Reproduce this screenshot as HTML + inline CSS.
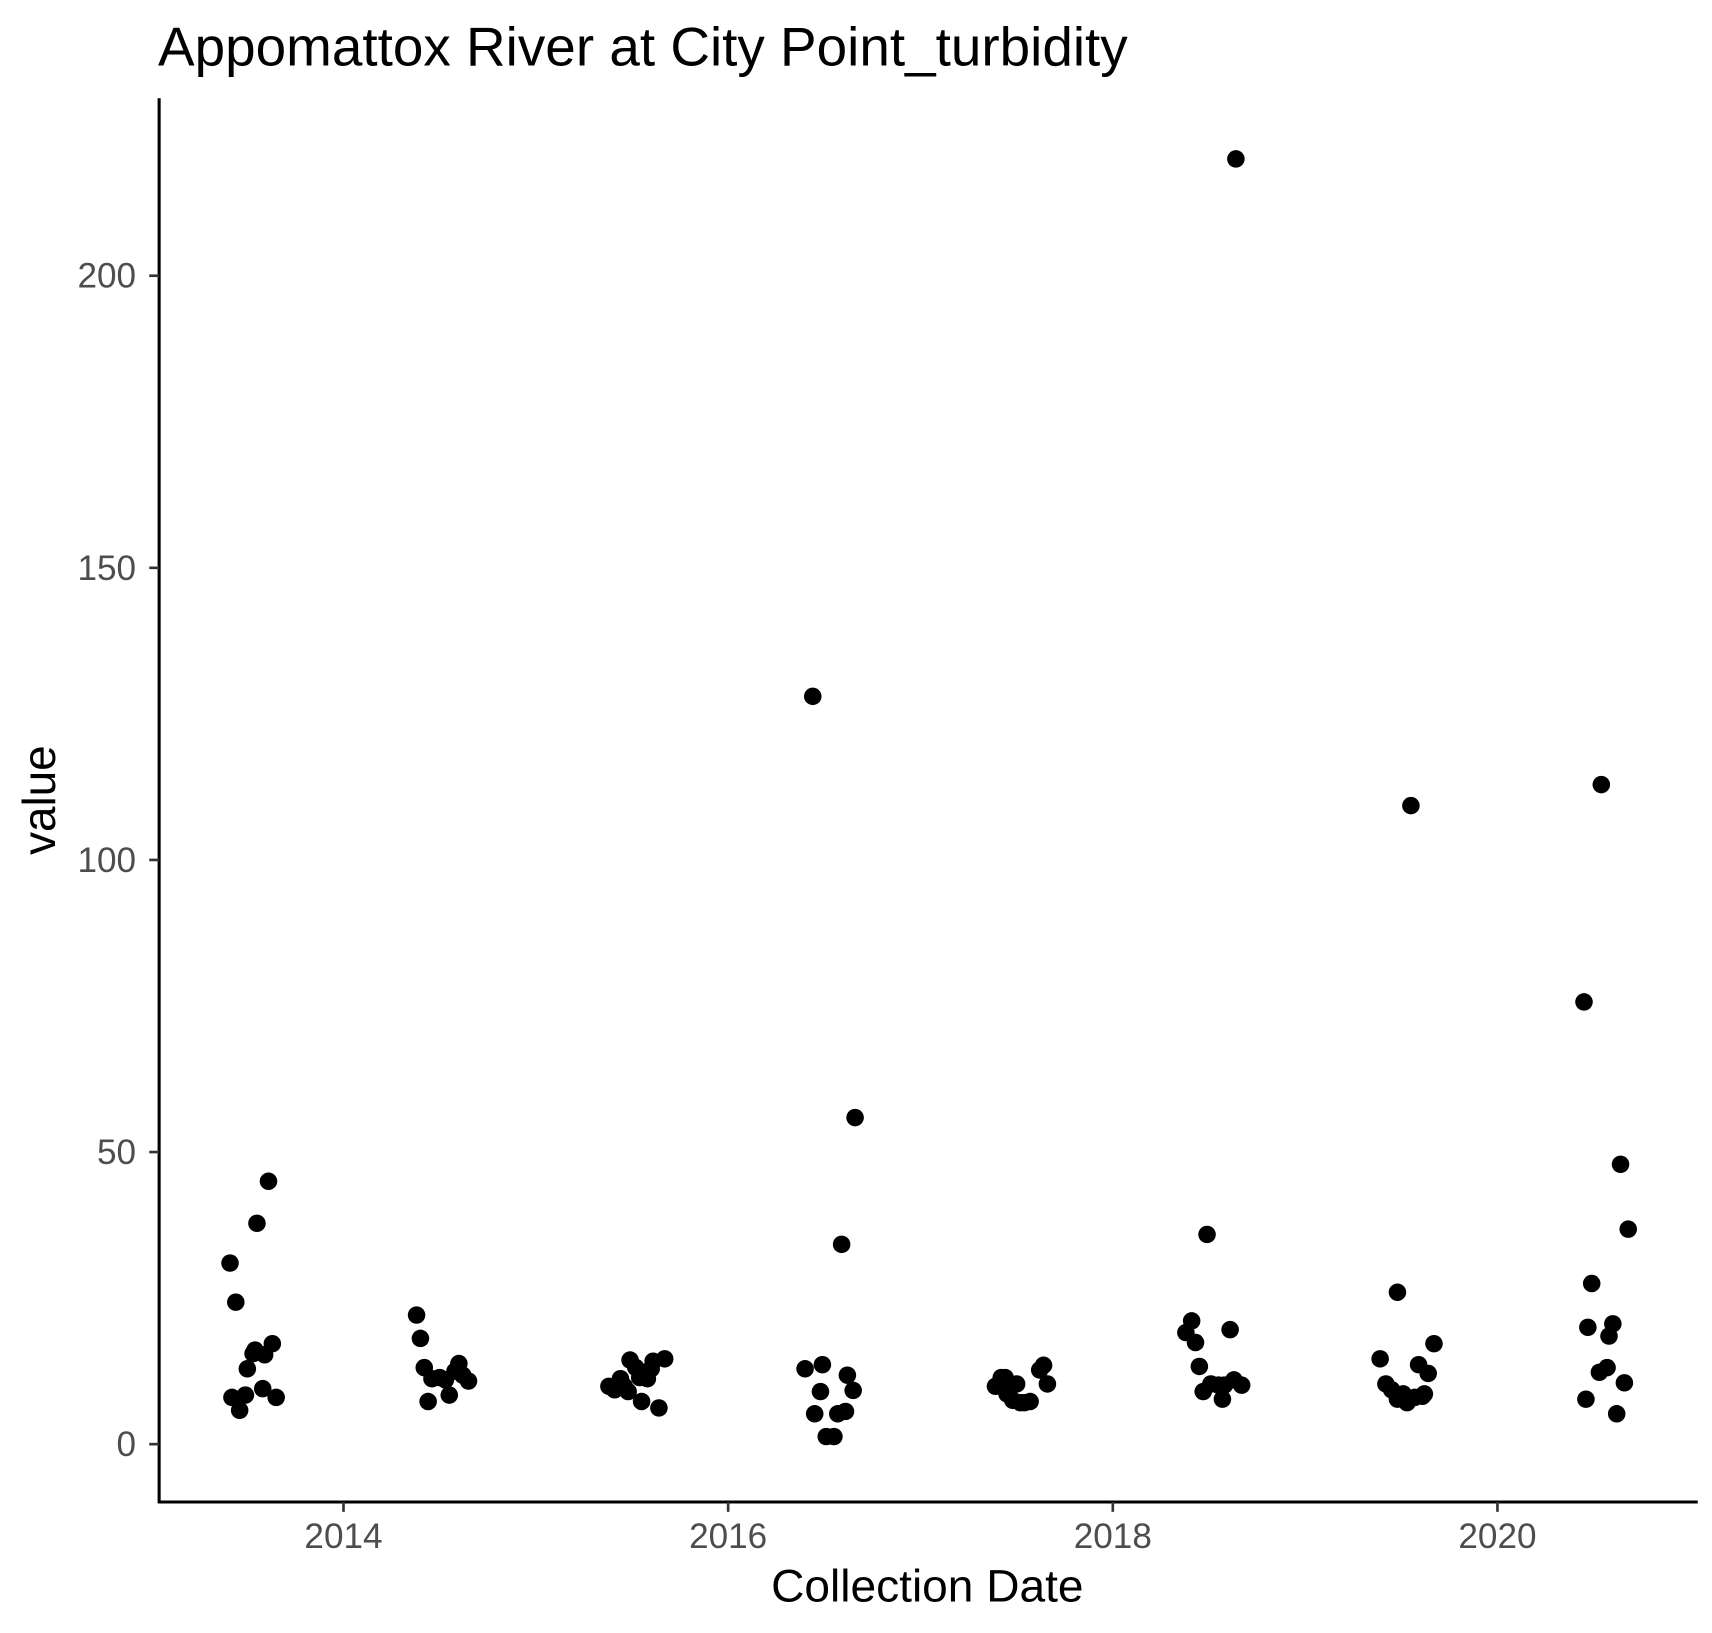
<!DOCTYPE html>
<html><head><meta charset="utf-8"><style>
html,body{margin:0;padding:0;background:#fff;}
svg{display:block;font-family:"Liberation Sans",Arial,sans-serif;}
</style></head><body>
<svg id="chart" width="1712" height="1633" viewBox="0 0 1560 1496" preserveAspectRatio="none" xmlns="http://www.w3.org/2000/svg">
<rect x="0" y="0" width="1560" height="1496" fill="#fff"/>
<text x="144" y="60" font-size="50" fill="#000">Appomattox River at City Point_turbidity</text>
<g id="axes"></g>
<g id="points"></g>
<text x="845" y="1467" font-size="42" text-anchor="middle" fill="#000">Collection Date</text>
<text transform="translate(50,733) rotate(-90)" font-size="42" text-anchor="middle" fill="#000">value</text>
</svg>
<script>
const xTicks = [2014, 2016, 2018, 2020];
const yTicks = [0, 50, 100, 150, 200];
const dates = [
2013.41,2013.44,2013.42,2013.46,2013.49,2013.50,2013.53,2013.54,2013.55,2013.58,2013.59,2013.61,2013.63,2013.65,
2014.38,2014.40,2014.42,2014.44,2014.46,2014.50,2014.53,2014.55,2014.58,2014.60,2014.62,2014.65,
2015.38,2015.41,2015.44,2015.46,2015.48,2015.49,2015.52,2015.54,2015.55,2015.58,2015.60,2015.61,2015.64,2015.67,
2016.40,2016.44,2016.45,2016.48,2016.49,2016.51,2016.55,2016.57,2016.59,2016.61,2016.62,2016.65,2016.66,
2017.39,2017.42,2017.44,2017.45,2017.48,2017.50,2017.52,2017.54,2017.57,2017.62,2017.64,2017.66,
2018.38,2018.41,2018.43,2018.45,2018.47,2018.49,2018.51,2018.55,2018.57,2018.58,2018.61,2018.63,2018.64,2018.67,
2019.39,2019.42,2019.45,2019.48,2019.48,2019.51,2019.53,2019.55,2019.57,2019.59,2019.61,2019.62,2019.64,2019.67,
2020.45,2020.46,2020.47,2020.49,2020.53,2020.54,2020.57,2020.58,2020.60,2020.62,2020.64,2020.66,2020.68];
const values = [
31.0,24.3,8.0,5.8,8.4,12.9,15.5,16.1,37.8,9.5,15.3,45.0,17.2,8.0,
22.1,18.1,13.1,7.3,11.2,11.4,11.0,8.4,12.5,13.8,11.8,10.8,
9.9,9.3,11.2,9.9,9.0,14.4,13.1,11.4,7.3,11.2,12.9,14.2,6.2,14.6,
12.9,128.0,5.2,9.0,13.6,1.3,1.3,5.2,34.2,5.6,11.8,9.2,55.9,
9.9,11.4,11.4,8.6,7.5,10.3,7.1,7.1,7.3,12.7,13.5,10.3,
19.1,21.1,17.4,13.3,9.0,35.9,10.3,10.1,7.7,10.1,19.6,11.0,220.0,10.1,
14.6,10.3,9.3,26.0,7.7,8.6,7.1,109.3,8.0,13.6,8.2,8.6,12.1,17.2,
75.7,7.7,20.0,27.5,12.3,112.9,13.1,18.5,20.6,5.2,47.9,10.5,36.8];

const NS = "http://www.w3.org/2000/svg";
function xScale(yr){ return 313 + (yr - 2014) * 175.25; }
function yScale(v){ return 1323 - v * 5.352; }
const axes = document.getElementById('axes');
const pts = document.getElementById('points');
function mk(tag, attrs, parent){ const e = document.createElementNS(NS, tag); for (const k in attrs) e.setAttribute(k, attrs[k]); parent.appendChild(e); return e; }

const yl = mk('line', {x1:145, y1:90, x2:145, y2:1377, stroke:'#000', 'stroke-width':2.8}, axes);


const xl = mk('line', {x1:144, y1:1376, x2:1547, y2:1376, stroke:'#000', 'stroke-width':2.8}, axes);



yTicks.forEach(t => {
  const y = yScale(t);
  const tk = mk('line', {x1:136, y1:y, x2:145, y2:y, stroke:'#333', 'stroke-width':2.4}, axes);
  
  
  const lb = mk('text', {x:124, y:y + 11, 'font-size':32, 'text-anchor':'end', fill:'#4d4d4d'}, axes);
  lb.textContent = t;
  
  
});
xTicks.forEach(t => {
  const x = xScale(t);
  const tk = mk('line', {x1:x, y1:1376, x2:x, y2:1385, stroke:'#333', 'stroke-width':2.4}, axes);
  
  
  const lb = mk('text', {x:x, y:1418, 'font-size':32, 'text-anchor':'middle', fill:'#4d4d4d'}, axes);
  lb.textContent = t;
  
  
});
dates.forEach((d, i) => {
  const c = mk('circle', {cx:xScale(d), cy:yScale(values[i]), r:8, fill:'#000'}, pts);
  
  
});
</script>
</body></html>
